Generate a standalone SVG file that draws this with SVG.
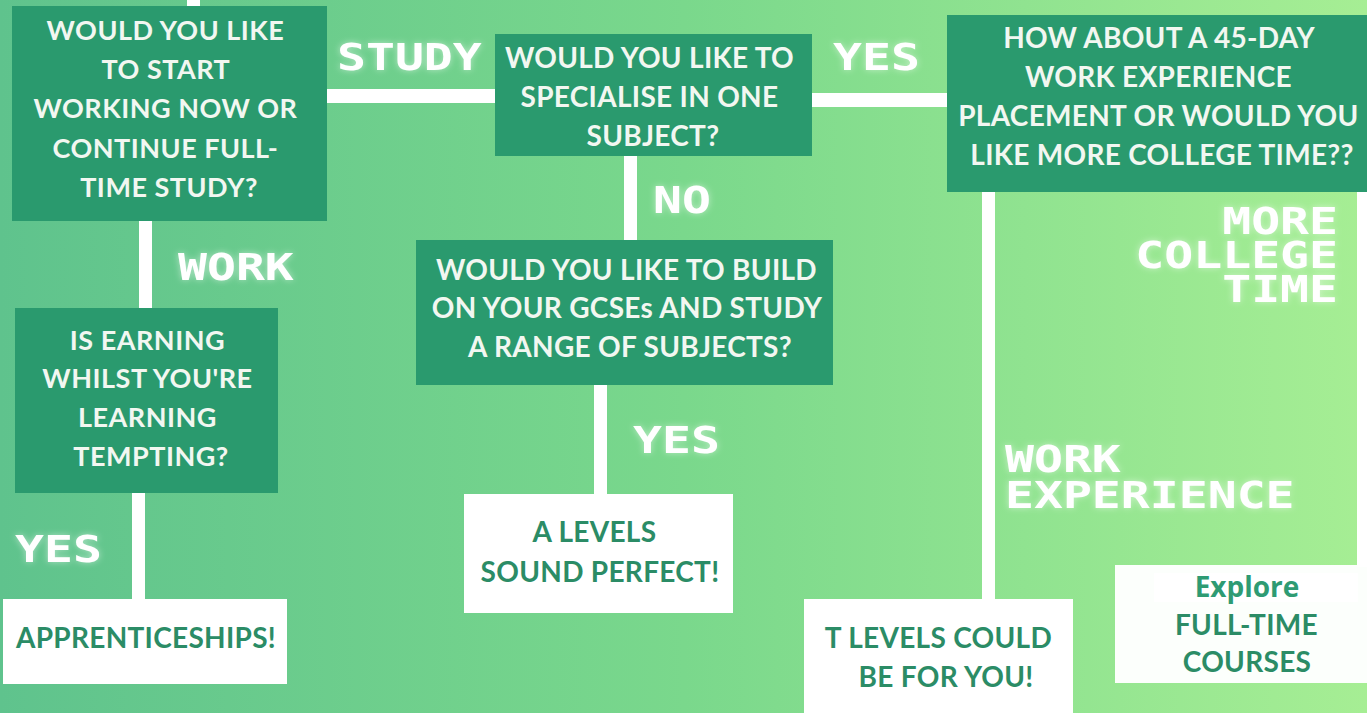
<svg xmlns="http://www.w3.org/2000/svg" width="1367" height="713" viewBox="0 0 1367 713">
  <defs>
    <linearGradient id="bg" x1="0" y1="0" x2="1" y2="0">
      <stop offset="0" stop-color="#5fc38d"/>
      <stop offset="0.5" stop-color="#7ad88c"/>
      <stop offset="1" stop-color="#a6ee94"/>
    </linearGradient>
    <filter id="glow" x="-20%" y="-40%" width="140%" height="180%">
      <feGaussianBlur in="SourceAlpha" stdDeviation="3" result="b"/>
      <feFlood flood-color="#ffffff" flood-opacity="0.5"/>
      <feComposite in2="b" operator="in" result="g"/>
      <feMerge>
        <feMergeNode in="g"/>
        <feMergeNode in="SourceGraphic"/>
      </feMerge>
    </filter>
  </defs>
  <style>
    .dark { fill: #2a9a6e; }
    .light { fill: #ffffff; }
    .line { fill: #ffffff; }
    .q { font-family: Lato, "Liberation Sans", sans-serif; font-weight: 700; font-size: 28px; fill: #f2f7f1; text-anchor: middle; letter-spacing: 0.3px; }
    .qs { font-size: 27px; letter-spacing: 0.5px; }
    .a { font-family: Lato, "Liberation Sans", sans-serif; font-weight: 700; font-size: 28px; fill: #2b8c66; text-anchor: middle; letter-spacing: 0.3px; }
    .lbl { font-family: "DejaVu Sans Mono", monospace; font-weight: 700; font-size: 37px; fill: #ffffff; filter: url(#glow); }
    .ex { font-family: "Open Sans", "Liberation Sans", sans-serif; font-weight: 700; font-size: 28px; fill: #2e9b73; text-anchor: middle; }
  </style>

  <rect width="1367" height="713" fill="url(#bg)"/>

  <g id="connectors">
    <rect class="line" x="187" y="0" width="13" height="8"/>
    <rect class="line" x="325" y="89" width="172" height="14"/>
    <rect class="line" x="810" y="93" width="139" height="14"/>
    <rect class="line" x="139" y="219" width="13" height="91"/>
    <rect class="line" x="132" y="491" width="13" height="110"/>
    <rect class="line" x="624" y="154" width="13" height="88"/>
    <rect class="line" x="594" y="383" width="13" height="113"/>
    <rect class="line" x="982" y="190" width="13" height="411"/>
    <rect class="line" x="1357" y="190" width="10" height="377"/>
  </g>

  <g id="labels">
    <text class="lbl" transform="translate(337,70) scale(1.3,1)">STUDY</text>
    <text class="lbl" transform="translate(833,70) scale(1.3,1)">YES</text>
    <text class="lbl" transform="translate(653,213) scale(1.3,1)">NO</text>
    <text class="lbl" transform="translate(178,280) scale(1.3,1)">WORK</text>
    <text class="lbl" transform="translate(15,562) scale(1.3,1)">YES</text>
    <text class="lbl" transform="translate(633,453) scale(1.3,1)">YES</text>
    <text class="lbl" text-anchor="end" transform="translate(1338,234) scale(1.3,1)">MORE</text>
    <text class="lbl" text-anchor="end" transform="translate(1338,268) scale(1.3,1)">COLLEGE</text>
    <text class="lbl" text-anchor="end" transform="translate(1338,302) scale(1.3,1)">TIME</text>
    <text class="lbl" transform="translate(1005,472) scale(1.3,1)">WORK</text>
    <text class="lbl" transform="translate(1005,508) scale(1.3,1)">EXPERIENCE</text>
  </g>

  <g id="node-start">
    <rect class="dark" x="12" y="6" width="315" height="215"/>
    <text class="q qs">
      <tspan x="169" y="40">WOULD YOU LIKE</tspan>
      <tspan x="169" y="79">TO START</tspan>
      <tspan x="169" y="118">WORKING NOW OR</tspan>
      <tspan x="169" y="158">CONTINUE FULL-</tspan>
      <tspan x="169" y="197">TIME STUDY?</tspan>
    </text>
  </g>

  <g id="node-earning">
    <rect class="dark" x="15" y="308" width="263" height="185"/>
    <text class="q qs">
      <tspan x="151" y="350">IS EARNING</tspan>
      <tspan x="151" y="388">WHILST YOU'RE</tspan>
      <tspan x="151" y="427">LEARNING</tspan>
      <tspan x="151" y="466">TEMPTING?</tspan>
    </text>
  </g>

  <g id="node-apprenticeships">
    <rect class="light" x="3" y="599" width="284" height="85"/>
    <text class="a" x="146" y="648">APPRENTICESHIPS!</text>
  </g>

  <g id="node-specialise">
    <rect class="dark" x="495" y="34" width="317" height="122"/>
    <text class="q">
      <tspan x="653" y="68">WOULD YOU LIKE TO</tspan>
      <tspan x="653" y="107">SPECIALISE IN ONE</tspan>
      <tspan x="653" y="146">SUBJECT?</tspan>
    </text>
  </g>

  <g id="node-placement">
    <rect class="dark" x="947" y="15" width="420" height="177"/>
    <text class="q">
      <tspan x="1162" y="48">HOW ABOUT A 45-DAY</tspan>
      <tspan x="1162" y="87">WORK EXPERIENCE</tspan>
      <tspan x="1162" y="126">PLACEMENT OR WOULD YOU</tspan>
      <tspan x="1162" y="165">LIKE MORE COLLEGE TIME??</tspan>
    </text>
  </g>

  <g id="node-build">
    <rect class="dark" x="416" y="240" width="417" height="145"/>
    <text class="q">
      <tspan x="630" y="280">WOULD YOU LIKE TO BUILD</tspan>
      <tspan x="630" y="318">ON YOUR GCSEs AND STUDY</tspan>
      <tspan x="630" y="357">A RANGE OF SUBJECTS?</tspan>
    </text>
  </g>

  <g id="node-alevels">
    <rect class="light" x="464" y="494" width="269" height="119"/>
    <text class="a">
      <tspan x="598" y="542">A LEVELS</tspan>
      <tspan x="600" y="582">SOUND PERFECT!</tspan>
    </text>
  </g>

  <g id="node-tlevels">
    <rect class="light" x="804" y="599" width="269" height="114"/>
    <text class="a">
      <tspan x="942" y="648">T LEVELS COULD</tspan>
      <tspan x="946" y="687">BE FOR YOU!</tspan>
    </text>
  </g>

  <g id="node-fulltime">
    <rect class="light" x="1115" y="565" width="252" height="118" fill-opacity="0.97"/>
    <rect x="1154" y="573" width="204" height="29" fill="#ffffff"/>
    <text class="ex" x="1247" y="597">Explore</text>
    <text class="a">
      <tspan x="1250" y="635">FULL-TIME</tspan>
      <tspan x="1247" y="672">COURSES</tspan>
    </text>
  </g>
</svg>
